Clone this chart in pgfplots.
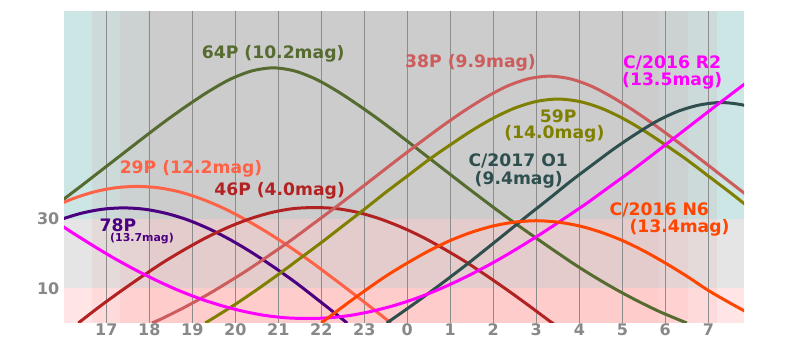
\documentclass[border=0pt]{standalone}
\usepackage{pgfplots}
\pgfplotsset{compat=1.18}
\usepackage{fontspec}
\setmainfont{DejaVu Sans}
\definecolor{c64}{RGB}{85,107,47}
\definecolor{c29}{RGB}{255,99,71}
\definecolor{c46}{RGB}{178,34,34}
\definecolor{c78}{RGB}{75,0,130}
\definecolor{c38}{RGB}{205,92,92}
\definecolor{c59}{RGB}{128,128,0}
\definecolor{cO1}{RGB}{47,79,79}
\definecolor{cR2}{RGB}{255,0,255}
\definecolor{cN6}{RGB}{255,69,0}
\definecolor{gridgray}{RGB}{140,140,140}
\definecolor{tickgray}{RGB}{136,136,136}
\newcommand{\skyband}[3]{%
  \fill[fill={rgb,255:red,204;green,#3;blue,#3}] (axis cs:#1,30) rectangle (axis cs:#2,90);
  \fill[fill={rgb,255:red,229;green,#3;blue,#3}] (axis cs:#1,10) rectangle (axis cs:#2,30);
  \fill[fill={rgb,255:red,255;green,#3;blue,#3}] (axis cs:#1,0) rectangle (axis cs:#2,10);
}
\newcommand{\lbl}{\fontsize{12.9}{14}\selectfont\bfseries}
\begin{document}
\begin{tikzpicture}
\begin{axis}[
  name=ax,
  set layers,
  scale only axis, width=510pt, height=234pt,
  xmin=16.016, xmax=31.83, ymin=0, ymax=90,
  axis line style={draw=none},
  xtick={17,...,31},
  xticklabels={17,18,19,20,21,22,23,0,1,2,3,4,5,6,7},
  ytick={10,30},
  major tick style={draw=none},
  xmajorgrids,
  major grid style={color=gridgray, line width=0.75pt},
  tick label style={font=\fontsize{12}{12}\selectfont\bfseries, text=tickgray},
  /pgf/number format/assume math mode=true,
  xticklabel style={yshift=3.2pt},
  every axis plot/.append style={line width=2.25pt, smooth, no markers},
  every node/.append style={inner sep=0pt},
]
\begin{pgfonlayer}{axis background}
\skyband{16.016}{16.667}{229}
\skyband{16.667}{17.318}{218}
\skyband{17.318}{17.97}{210}
\skyband{17.97}{29.85}{204}
\skyband{29.85}{30.52}{210}
\skyband{30.52}{31.2}{218}
\skyband{31.2}{31.83}{229}
\end{pgfonlayer}

% 64P
\addplot[c64] coordinates {(15.88,34.5) (16.38,39.2) (16.88,44.0) (17.38,48.8) (17.88,53.6) (18.38,58.3) (18.88,62.7) (19.38,66.8) (19.88,70.3) (20.38,72.7) (20.88,73.6) (21.38,72.7) (21.88,70.3) (22.38,66.8) (22.88,62.7) (23.38,58.3) (23.88,53.6) (24.38,48.8) (24.88,44.0) (25.38,39.2) (25.88,34.5) (26.38,29.9) (26.88,25.5) (27.38,21.2) (27.88,17.0) (28.38,13.1) (28.88,9.5) (29.38,6.2) (29.88,3.2) (30.38,0.6) (30.5,0)};
% 29P
\addplot[c29] coordinates {(15.71,33.2) (16.21,35.8) (16.71,37.8) (17.21,39.0) (17.71,39.4) (18.21,39.0) (18.71,37.8) (19.21,35.8) (19.71,33.2) (20.21,30.0) (20.71,26.4) (21.21,22.4) (21.71,18.1) (22.21,13.5) (22.71,8.8) (23.21,4.0) (23.62,0)};
% 78P
\addplot[c78] coordinates {(15.9,29.7) (16.4,31.6) (16.9,32.8) (17.4,33.2) (17.9,32.8) (18.4,31.6) (18.9,29.7) (19.4,27.1) (19.9,23.9) (20.4,20.2) (20.9,16.1) (21.4,11.7) (21.9,6.9) (22.4,2.0) (22.6,0)};
% 46P
\addplot[c46] coordinates {(16.35,0) (16.85,4.8) (17.35,9.3) (17.85,13.6) (18.35,17.7) (18.85,21.4) (19.35,24.8) (19.85,27.7) (20.35,30.1) (20.85,31.9) (21.35,33.0) (21.85,33.3) (22.35,33.0) (22.85,31.9) (23.35,30.1) (23.85,27.7) (24.35,24.8) (24.85,21.4) (25.35,17.7) (25.85,13.6) (26.35,9.3) (26.85,4.8) (27.35,0.2) (27.4,0)};
% 38P
\addplot[c38] coordinates {(18.06,0) (18.3,1.3) (18.8,4.4) (19.3,7.8) (19.8,11.5) (20.3,15.4) (20.8,19.6) (21.3,23.9) (21.8,28.5) (22.3,33.1) (22.8,37.8) (23.3,42.6) (23.8,47.4) (24.3,52.1) (24.8,56.7) (25.3,61.0) (25.8,64.9) (26.3,68.2) (26.8,70.4) (27.3,71.2) (27.8,70.4) (28.3,68.2) (28.8,64.9) (29.3,61.0) (29.8,56.7) (30.3,52.1) (30.8,47.4) (31.3,42.6) (31.8,37.8) (32.3,33.1)};
% 59P
\addplot[c59] coordinates {(19.3,0) (19.5,1.5) (20.0,5.4) (20.5,9.6) (21.0,14.0) (21.5,18.6) (22.0,23.2) (22.5,28.0) (23.0,32.8) (23.5,37.7) (24.0,42.4) (24.5,47.1) (25.0,51.4) (25.5,55.5) (26.0,59.1) (26.5,62.0) (27.0,63.9) (27.5,64.6) (28.0,63.9) (28.5,62.0) (29.0,59.1) (29.5,55.5) (30.0,51.4) (30.5,47.1) (31.0,42.4) (31.5,37.7) (32.0,32.8)};
% C/2017 O1
\addplot[cO1] coordinates {(23.52,0) (23.8,2.4) (24.3,6.8) (24.8,11.4) (25.3,16.1) (25.8,21.0) (26.3,26.0) (26.8,31.0) (27.3,35.9) (27.8,40.9) (28.3,45.6) (28.8,50.2) (29.3,54.4) (29.8,58.2) (30.3,61.1) (30.8,62.9) (31.3,63.6) (31.8,62.9) (32.3,61.1)};
% C/2016 R2
\addplot[cR2] coordinates {(15.68,30.4) (16.18,26.3) (16.68,22.4) (17.18,18.7) (17.68,15.3) (18.18,12.2) (18.68,9.4) (19.18,7.0) (19.68,5.0) (20.18,3.4) (20.68,2.2) (21.18,1.5) (21.68,1.3) (22.18,1.5) (22.68,2.2) (23.18,3.4) (23.68,5.0) (24.18,7.0) (24.68,9.4) (25.18,12.2) (25.68,15.3) (26.18,18.7) (26.68,22.4) (27.18,26.3) (27.68,30.4) (28.18,34.6) (28.68,39.1) (29.18,43.6) (29.68,48.3) (30.18,53.1) (30.68,57.9) (31.18,62.7) (31.68,67.4) (32.18,72.1)};
% C/2016 N6
\addplot[cN6] coordinates {(22.0,0) (22.5,4.7) (23.0,9.2) (23.5,13.5) (24.0,17.3) (24.5,20.8) (25.0,23.8) (25.5,26.2) (26.0,28.0) (26.5,29.1) (27.0,29.5) (27.5,29.1) (28.0,28.0) (28.5,26.2) (29.0,23.8) (29.5,20.8) (30.0,17.3) (30.5,13.5) (31.0,9.4) (31.5,5.8) (32.0,2.4)};

\node[text=c64, font=\lbl] at (axis cs:20.88,77.7) {64P (10.2mag)};
\node[text=c29, font=\lbl] at (axis cs:18.97,44.4) {29P (12.2mag)};
\node[text=c46, font=\lbl] at (axis cs:21.03,38.2) {46P (4.0mag)};
\node[text=c78, font=\lbl] at (axis cs:17.27,28.3) {78P};
\node[text=c78, font=\fontsize{8.2}{9}\selectfont\bfseries] at (axis cs:17.83,24.4) {(13.7mag)};
\node[text=c38, font=\lbl] at (axis cs:25.47,75.1) {38P (9.9mag)};
\node[text=cR2, font=\lbl] at (axis cs:30.16,75.1) {C/2016 R2};
\node[text=cR2, font=\lbl] at (axis cs:30.16,69.9) {(13.5mag)};
\node[text=c59, font=\lbl] at (axis cs:27.51,59.6) {59P};
\node[text=c59, font=\lbl] at (axis cs:27.42,54.6) {(14.0mag)};
\node[text=cO1, font=\lbl] at (axis cs:26.58,46.7) {C/2017 O1};
\node[text=cO1, font=\lbl] at (axis cs:26.59,41.2) {(9.4mag)};
\node[text=cN6, font=\lbl] at (axis cs:29.86,32.6) {C/2016 N6};
\node[text=cN6, font=\lbl] at (axis cs:30.33,27.4) {(13.4mag)};
\end{axis}
\pgfresetboundingbox
\path ([xshift=-48pt,yshift=-22.5pt]ax.south west) rectangle ([xshift=42pt,yshift=8.25pt]ax.north east);
\end{tikzpicture}
\end{document}
